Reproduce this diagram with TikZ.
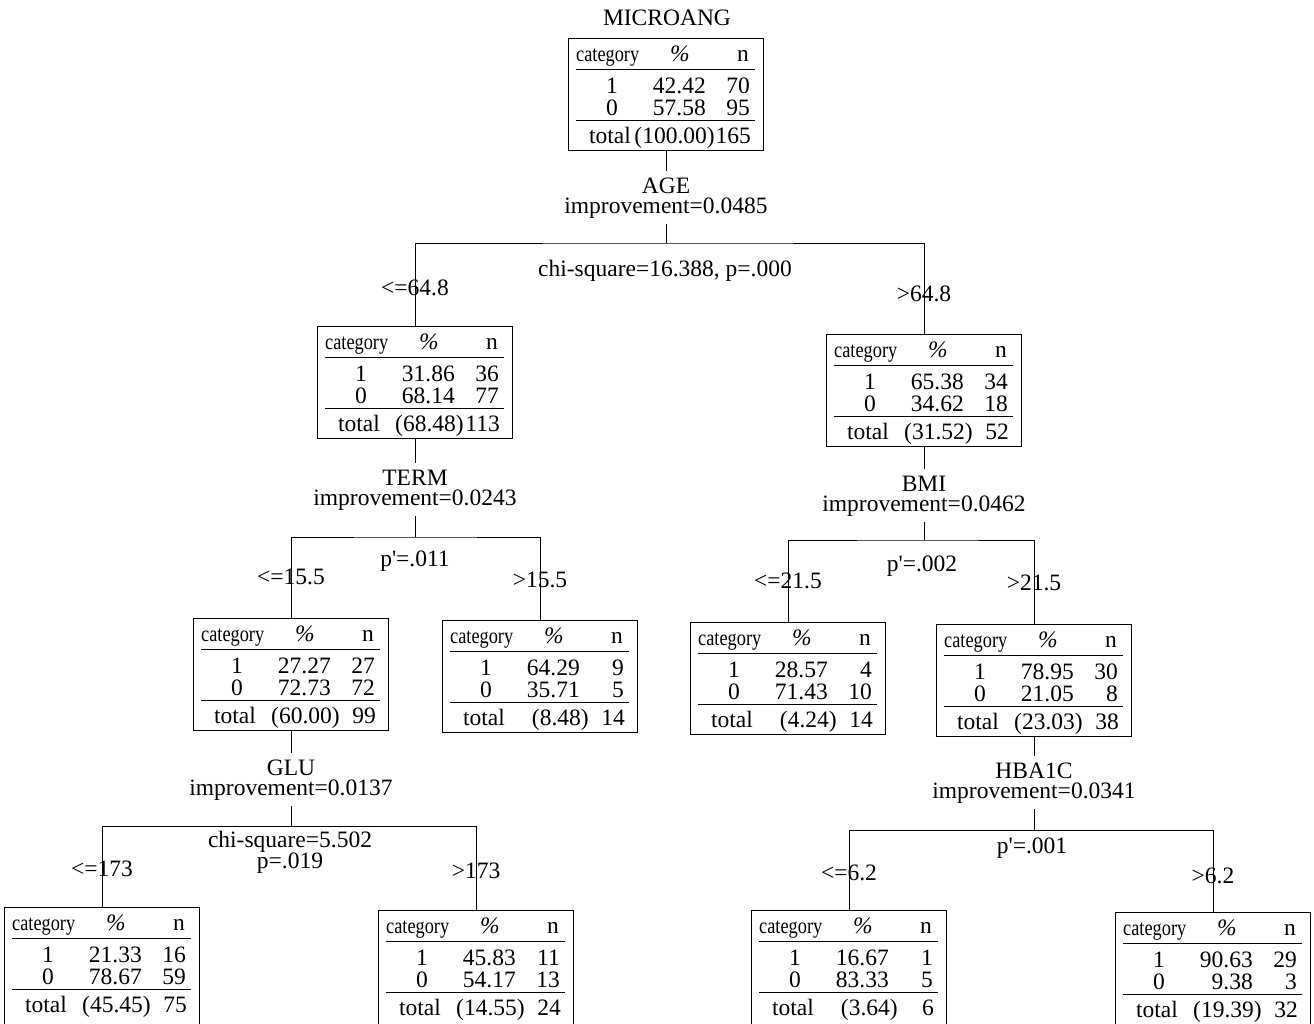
\documentclass[tikz,border=0pt]{standalone}
\usepackage{fontspec}
\setmainfont{Liberation Serif}
\usepackage{graphicx}
\usetikzlibrary{positioning,calc}

\newcommand{\catlabel}{\scalebox{0.78}[0.95]{category}}
% #1 extra style, #2 name, #3 top centre, #4-#9 table values
\newcommand{\catbox}[9][]{%
  \node[cbox,#1] (#2) at (#3) {};
  \begin{scope}[shift={(#2.north west)}]
    \node[cell, anchor=base west] (#2-hc) at (8,23) {\catlabel};
    \node[cell, anchor=base] (#2-hp) at (112,23) {\textit{\%}};
    \node[cell, anchor=base] (#2-hn) at (175,23) {n};
    \draw[rule] (8,31) -- (187,31);
    \node[cell, anchor=base] (#2-k1) at (44,55) {1};
    \node[cell, anchor=base east] (#2-p1) at (138,55) {#4};
    \node[cell, anchor=base east] (#2-n1) at (182,55) {#5};
    \node[cell, anchor=base] (#2-k0) at (44,77) {0};
    \node[cell, anchor=base east] (#2-p0) at (138,77) {#6};
    \node[cell, anchor=base east] (#2-n0) at (182,77) {#7};
    \draw[rule] (8,82) -- (187,82);
    \node[cell, anchor=base west] (#2-t) at (21,105) {total};
    \node[cell, anchor=base east] (#2-tp) at (147,105) {#8};
    \node[cell, anchor=base east] (#2-tn) at (183,105) {#9};
  \end{scope}}

\begin{document}
\begin{tikzpicture}[
  x=1pt, y=-1pt,
  font=\fontsize{23.5pt}{26pt}\selectfont,
  cbox/.style={draw, line width=1.1pt, anchor=north, minimum width=195pt, minimum height=112pt, inner sep=0pt},
  cell/.style={inner sep=0pt},
  rule/.style={line width=0.9pt},
  splitvar/.style={inner sep=0pt},
  gainlbl/.style={inner sep=0pt},
  statlbl/.style={inner sep=0pt},
  branchlbl/.style={inner sep=0pt},
  link/.style={line width=0.9pt},
  tovar/.style={link, shorten >=7pt},
  fromgain/.style={link, shorten <=5pt}
]
\useasboundingbox (0,0) rectangle (1314,1023);
\clip (0,0) rectangle (1314,1023);

% root
\node (title) at (667,18) {MICROANG};
\catbox{root}{666,38}{42.42}{70}{57.58}{95}{(100.00)}{165}
\node[splitvar] (age) at (666,186) {AGE};
\node[gainlbl] (agegain) at (666,208) {improvement=0.0485};
\coordinate (agej) at (666,243);
\node[statlbl] (agestat) at (665,271) {chi-square=16.388, p=.000};

\catbox{l1}{415,326}{31.86}{36}{68.14}{77}{(68.48)}{113}
\catbox{r1}{924,334}{65.38}{34}{34.62}{18}{(31.52)}{52}
\node[branchlbl] (agelo) at (415,288) {<=64.8};
\node[branchlbl] (agehi) at (924,294) {>64.8};

\draw[tovar] (root.south) -- (age.north);
\draw[fromgain] (agegain.south) -- (agej);
\draw[link] (l1.north) |- (agej) -| (r1.north);

% TERM
\node[splitvar] (term) at (415,478) {TERM};
\node[gainlbl] (termgain) at (415,500) {improvement=0.0243};
\coordinate (termj) at (415,537);
\node[statlbl] (termstat) at (415,561) {p\textquotesingle=.011};

\catbox{l2a}{291,618}{27.27}{27}{72.73}{72}{(60.00)}{99}
\catbox{l2b}{540,620}{64.29}{9}{35.71}{5}{(8.48)}{14}
\node[branchlbl] (termlo) at (291,577) {<=15.5};
\node[branchlbl] (termhi) at (540,580) {>15.5};

\draw[tovar] (l1.south) -- (term.north);
\draw[fromgain] (termgain.south) -- (termj);
\draw[link] (l2a.north) |- (termj) -| (l2b.north);

% BMI
\node[splitvar] (bmi) at (924,484) {BMI};
\node[gainlbl] (bmigain) at (924,506) {improvement=0.0462};
\coordinate (bmij) at (924,540);
\node[statlbl] (bmistat) at (922,566) {p\textquotesingle=.002};

\catbox{r2a}{788,622}{28.57}{4}{71.43}{10}{(4.24)}{14}
\catbox{r2b}{1034,624}{78.95}{30}{21.05}{8}{(23.03)}{38}
\node[branchlbl] (bmilo) at (788,581) {<=21.5};
\node[branchlbl] (bmihi) at (1034,583) {>21.5};

\draw[tovar] (r1.south) -- (bmi.north);
\draw[fromgain] (bmigain.south) -- (bmij);
\draw[link] (r2a.north) |- (bmij) -| (r2b.north);

% GLU
\node[splitvar] (glu) at (291,768) {GLU};
\node[gainlbl] (glugain) at (291,790) {improvement=0.0137};
\coordinate (gluj) at (291,826);
\node[statlbl] (glustat) at (290,842) {chi-square=5.502};
\node[statlbl] (glup) at (290,863) {p=.019};

\catbox[minimum height=120pt]{l3a}{102,907}{21.33}{16}{78.67}{59}{(45.45)}{75}
\catbox[minimum height=120pt]{l3b}{476,910}{45.83}{11}{54.17}{13}{(14.55)}{24}
\node[branchlbl] (glulo) at (102,869) {<=173};
\node[branchlbl] (gluhi) at (476,871) {>173};

\draw[tovar] (l2a.south) -- (glu.north);
\draw[fromgain] (glugain.south) -- (gluj);
\draw[link] (l3a.north) |- (gluj) -| (l3b.north);

% HBA1C
\node[splitvar] (hba) at (1034,771) {HBA1C};
\node[gainlbl] (hbagain) at (1034,793) {improvement=0.0341};
\coordinate (hbaj) at (1034,830);
\node[statlbl] (hbastat) at (1032,848) {p\textquotesingle=.001};

\catbox[minimum height=120pt]{r3a}{849,910}{16.67}{1}{83.33}{5}{(3.64)}{6}
\catbox[minimum height=120pt]{r3b}{1213,912}{90.63}{29}{9.38}{3}{(19.39)}{32}
\node[branchlbl] (hbalo) at (849,873) {<=6.2};
\node[branchlbl] (hbahi) at (1213,876) {>6.2};

\draw[tovar] (r2b.south) -- (hba.north);
\draw[fromgain] (hbagain.south) -- (hbaj);
\draw[link] (r3a.north) |- (hbaj) -| (r3b.north);

\end{tikzpicture}
\end{document}
